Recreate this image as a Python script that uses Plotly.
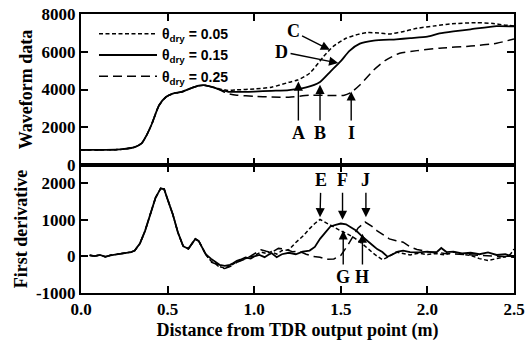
import plotly.graph_objects as go

# ---------------- data ----------------
# Top panel: waveform data
wf_x_05 = [0, 0.1, 0.2, 0.25, 0.31, 0.35, 0.38, 0.41, 0.45, 0.49, 0.53, 0.58, 0.63, 0.68, 0.71, 0.75, 0.8,
           0.85, 0.9, 1.0, 1.1, 1.2, 1.25, 1.32, 1.4, 1.455, 1.53, 1.6, 1.65, 1.72, 1.78, 1.85, 1.94, 2.05,
           2.13, 2.28, 2.38, 2.44, 2.5]
wf_y_05 = [800, 800, 810, 850, 950, 1150, 1600, 2200, 3150, 3600, 3780, 3870, 4050, 4200, 4230, 4150, 4030,
           3950, 3980, 4030, 4120, 4380, 4500, 4860, 5740, 6270, 6715, 6920, 7010, 7000, 6940, 7050, 7240, 7380,
           7470, 7540, 7500, 7420, 7370]

wf_x_15 = [0, 0.1, 0.2, 0.25, 0.31, 0.35, 0.38, 0.41, 0.45, 0.49, 0.53, 0.58, 0.63, 0.68, 0.71, 0.75, 0.8,
           0.85, 0.9, 1.0, 1.1, 1.2, 1.3, 1.38, 1.44, 1.5, 1.55, 1.61, 1.69, 1.82, 1.9, 2.0, 2.07, 2.15,
           2.25, 2.4, 2.5]
wf_y_15 = [800, 800, 810, 850, 950, 1150, 1600, 2200, 3150, 3600, 3780, 3870, 4050, 4200, 4230, 4150, 4000,
           3880, 3870, 3890, 3930, 3970, 4110, 4400, 4950, 5500, 6050, 6430, 6590, 6660, 6720, 6800, 6970, 7080,
           7190, 7360, 7340]

wf_x_25 = [0, 0.1, 0.2, 0.25, 0.31, 0.35, 0.38, 0.41, 0.45, 0.49, 0.53, 0.58, 0.63, 0.68, 0.71, 0.75, 0.8,
           0.85, 0.9, 1.0, 1.1, 1.2, 1.32, 1.45, 1.52, 1.56, 1.61, 1.69, 1.76, 1.84, 1.94, 2.07, 2.25, 2.4, 2.5]
wf_y_25 = [800, 800, 810, 850, 950, 1150, 1600, 2200, 3150, 3600, 3780, 3870, 4050, 4200, 4230, 4150, 3980,
           3780, 3700, 3640, 3600, 3590, 3700, 3680, 3700, 3850, 4240, 5030, 5560, 5920, 6060, 6190, 6300,
           6450, 6680]

# Bottom panel: first derivative
common_x = [0.05, 0.08, 0.11, 0.14, 0.17, 0.2, 0.23, 0.26, 0.29, 0.31, 0.34, 0.37, 0.4, 0.43, 0.46, 0.48,
            0.5, 0.53, 0.56, 0.59, 0.62, 0.64, 0.66, 0.68, 0.7, 0.72]
common_y = [30, 10, 40, -10, 30, 50, 60, 90, 120, 160, 350, 700, 1150, 1600, 1860, 1840,
            1560, 1150, 650, 280, 210, 330, 480, 420, 220, 60]

fd_x_05 = [0.75, 0.78, 0.8, 0.83, 0.86, 0.9, 0.95, 1.0, 1.04, 1.07, 1.1, 1.13, 1.16, 1.2, 1.24, 1.28, 1.32,
           1.35, 1.38, 1.42, 1.46, 1.5, 1.54, 1.58, 1.62, 1.66, 1.7, 1.74, 1.78, 1.82, 1.86, 1.9, 1.95, 2.0,
           2.05, 2.1, 2.15, 2.2, 2.25, 2.3, 2.35, 2.4, 2.45, 2.48, 2.5]
fd_y_05 = [-120, -200, -280, -320, -260, -150, -60, 20, 120, 80, 130, 60, 160, 180, 380, 550, 760,
           900, 1010, 900, 790, 700, 610, 500, 360, 200, 40, -90, 0, 120, 80, 40, 90, 50,
           80, 40, 120, 60, 30, -60, -110, -70, -10, 60, 200]

fd_x_15 = [0.75, 0.78, 0.8, 0.83, 0.86, 0.88, 0.9, 0.92, 0.95, 0.98, 1.0, 1.03, 1.06, 1.08, 1.1, 1.13, 1.16,
           1.2, 1.24, 1.28, 1.32, 1.35, 1.38, 1.41, 1.44, 1.47, 1.5, 1.53, 1.56, 1.59, 1.62, 1.65, 1.68, 1.71,
           1.74, 1.77, 1.8, 1.83, 1.86, 1.9, 1.95, 2.0, 2.05, 2.08, 2.11, 2.15, 2.2, 2.25, 2.3, 2.35, 2.4,
           2.45, 2.5]
fd_y_15 = [-60, -150, -230, -260, -230, -180, -120, -90, -30, -60, 0, 40, -20, 40, 90, -20, 60,
           100, 60, 130, 160, 260, 480, 650, 820, 860, 900, 880, 780, 700, 560, 430, 320, 200,
           120, -10, 60, 130, 160, 120, 110, 130, 100, 230, 120, 130, 80, 100, 60, 110, 40,
           60, -20]

fd_x_25 = [0.75, 0.78, 0.8, 0.83, 0.86, 0.9, 0.95, 1.0, 1.04, 1.07, 1.1, 1.14, 1.18, 1.22, 1.26, 1.3, 1.34,
           1.38, 1.42, 1.46, 1.5, 1.54, 1.57, 1.6, 1.64, 1.68, 1.71, 1.75, 1.78, 1.82, 1.86, 1.9, 1.94, 2.0,
           2.05, 2.1, 2.15, 2.2, 2.3, 2.4, 2.5]
fd_y_25 = [-150, -210, -300, -330, -280, -160, -70, 60, 180, 140, 110, 220, 200, 130, 140, 60, 0,
           -20, -80, -70, 30, 300, 530, 780, 940, 820, 700, 580, 480, 430, 390, 260, 190, 130,
           120, 80, 70, 50, 25, 20, -20]

series_names = ["<b>θ<sub>dry</sub> = 0.05</b>", "<b>θ<sub>dry</sub> = 0.15</b>", "<b>θ<sub>dry</sub> = 0.25</b>"]

x_ticks = [0.0, 0.5, 1.0, 1.5, 2.0, 2.5]
x_tick_text = ["0.0", "0.5", "1.0", "1.5", "2.0", "2.5"]
wf_ticks = [0, 2000, 4000, 6000, 8000]
fd_ticks = [-1000, 0, 1000, 2000]

# Annotation labels: (text, x label, y label, x tip, y tip)
top_labels = [("A", 1.255, 1700, 1.255, 4420), ("B", 1.38, 1700, 1.38, 4250), ("I", 1.56, 1700, 1.56, 3900),
              ("C", 1.225, 7080, 1.437, 6100), ("D", 1.158, 6000, 1.485, 5400)]
bot_labels = [("E", 1.385, 2080, 1.38, 1074), ("F", 1.51, 2080, 1.51, 1003), ("J", 1.645, 2080, 1.645, 1074),
              ("G", 1.514, -560, 1.514, 710), ("H", 1.625, -560, 1.625, 620)]

# ---------------- figure ----------------
dashes = ["4px,2.5px", "solid", "9px,5px"]
fig = go.Figure()

wf_sets = [(wf_x_05, wf_y_05), (wf_x_15, wf_y_15), (wf_x_25, wf_y_25)]
fd_sets = [(fd_x_05, fd_y_05), (fd_x_15, fd_y_15), (fd_x_25, fd_y_25)]

for i, (xs, ys) in enumerate(wf_sets):
    fig.add_trace(go.Scatter(x=xs, y=ys, mode="lines", name=series_names[i],
                             line=dict(color="black", width=1.8 if i == 1 else 1.5, dash=dashes[i],
                                       shape="spline", smoothing=0.6),
                             xaxis="x2", yaxis="y", showlegend=True))

for i, (xs, ys) in enumerate(fd_sets):
    fig.add_trace(go.Scatter(x=common_x + xs, y=common_y + ys, mode="lines",
                             line=dict(color="black", width=1.8 if i == 1 else 1.5, dash=dashes[i]),
                             xaxis="x", yaxis="y2", showlegend=False))

tick_font = dict(family="Liberation Serif", size=17, color="black")
title_font = dict(family="Liberation Serif", size=18, color="black")

split = 128 / 279

common_axis = dict(ticks="inside", ticklen=7, tickwidth=1.5, tickcolor="black",
                   showline=True, linecolor="black", linewidth=2, mirror="ticks",
                   showgrid=False, zeroline=False, automargin=False)

fig.update_layout(
    width=527, height=349,
    margin=dict(l=81, r=13, t=14, b=56, autoexpand=False),
    plot_bgcolor="white", paper_bgcolor="white",
    showlegend=True,
    legend=dict(x=0.03, y=0.985, xanchor="left", yanchor="top", bgcolor="rgba(0,0,0,0)",
                font=dict(family="Liberation Sans", size=14, color="black"),
                tracegroupgap=0, itemwidth=58),
    xaxis=dict(domain=[0, 1], anchor="y2", range=[0, 2.5], tickvals=x_ticks,
               ticktext=["<b>%s</b>" % t for t in x_tick_text], tickfont=tick_font,
               title=dict(text="<b>Distance from TDR output point (m)</b>", font=title_font, standoff=5),
               **common_axis),
    xaxis2=dict(domain=[0, 1], anchor="y", matches="x", range=[0, 2.5], tickvals=x_ticks,
                showticklabels=False, **common_axis),
    yaxis=dict(domain=[split, 1], anchor="x2", range=[0, 8000], tickvals=wf_ticks,
               ticktext=["<b>%d</b>" % v for v in wf_ticks], tickfont=tick_font,
               title=dict(text="<b>Waveform data</b>", font=title_font, standoff=4),
               **common_axis),
    yaxis2=dict(domain=[0, split], anchor="x", range=[-1000, 2500], tickvals=fd_ticks,
                ticktext=["<b>%d</b>" % v for v in fd_ticks], tickfont=tick_font,
                title=dict(text="<b>First derivative</b>", font=title_font, standoff=4),
                **common_axis),
)

ann_font = dict(family="Liberation Serif", size=18, color="black")
for txt, lx, ly, tx, ty in top_labels:
    fig.add_annotation(x=tx, y=ty, xref="x2", yref="y", ax=lx, ay=ly, axref="x2", ayref="y",
                       text="<b>%s</b>" % txt, font=ann_font, showarrow=True, arrowhead=2,
                       arrowsize=1.3, arrowwidth=1.4, arrowcolor="black", standoff=0, startstandoff=1)
for txt, lx, ly, tx, ty in bot_labels:
    fig.add_annotation(x=tx, y=ty, xref="x", yref="y2", ax=lx, ay=ly, axref="x", ayref="y2",
                       text="<b>%s</b>" % txt, font=ann_font, showarrow=True, arrowhead=2,
                       arrowsize=1.3, arrowwidth=1.4, arrowcolor="black", standoff=0, startstandoff=1)

fig.write_html("out.html", config={"displayModeBar": False},
               post_script="document.body.style.margin='0';document.body.style.padding='0';")
